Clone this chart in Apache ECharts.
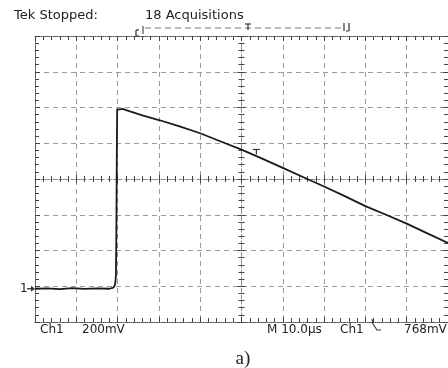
<!DOCTYPE html>
<html>
<head>
<meta charset="utf-8">
<script src="https://cdn.jsdelivr.net/npm/echarts@6/dist/echarts.min.js"></script>
<style>
html,body{margin:0;padding:0;background:#fff;}
#chart{width:448px;height:368px;}
</style>
</head>
<body>
<div id="chart"></div>
<script>
// Time axis in microseconds (10 µs/div), screen voltage in mV (200 mV/div)
const timeUs = [-50, -47, -44, -41, -38, -35, -32, -31.0, -30.6, -30.4, -30.3, -30.2, -30.1, -29.8, -29.4, -28.8, -27, -24, -20, -15, -10, -5, 0, 5, 10, 15, 20, 25, 30, 35, 40, 45, 50];
const ch1mV  = [-614, -612, -616, -611, -615, -612, -614, -608, -590, -540, -300, 100, 390, 400, 390, 392, 378, 356, 330, 294, 256, 210, 164, 114, 62, 10, -42, -96, -152, -200, -250, -304, -358];
const groundLevelmV = -614;
const triggerMark = [3.6, 154];
const topTexts = ['Tek Stopped:', '18 Acquisitions'];
const bottomTexts = ['Ch1', '200mV', 'M 10.0\u00b5s', 'Ch1', '768mV'];
const caption = 'a)';

const chart = echarts.init(document.getElementById('chart'), null, {renderer: 'canvas'});

const tickColor = '#444';
const gridColor = '#9a9a9a';
function border(dim, pos) {
  const isX = dim === 'x';
  return {
    type: 'value', position: pos,
    min: isX ? -50 : -800, max: isX ? 50 : 800, interval: isX ? 10 : 200,
    axisLabel: {show: false},
    axisLine: {show: true, onZero: false, lineStyle: {color: '#555', width: 1, type: 'dotted'}},
    axisTick: {show: true, inside: true, length: 5, lineStyle: {color: tickColor}},
    minorTick: {show: true, splitNumber: 5, length: 4, lineStyle: {color: tickColor}},
    splitLine: {show: pos === 'bottom' || pos === 'left', lineStyle: {color: gridColor, type: [5, 4], width: 1}}
  };
}
function center(dim, inside, showLine) {
  const isX = dim === 'x';
  return {
    type: 'value', position: isX ? 'bottom' : 'left',
    min: isX ? -50 : -800, max: isX ? 50 : 800, interval: isX ? 10 : 200,
    axisLabel: {show: false},
    axisLine: {show: showLine, onZero: true, onZeroAxisIndex: 0, lineStyle: {color: '#8a8a8a', width: 1, type: [3, 3]}},
    axisTick: {show: true, inside: inside, length: 4, lineStyle: {color: tickColor}},
    minorTick: {show: true, splitNumber: 5, length: 3, lineStyle: {color: tickColor}},
    splitLine: {show: false}
  };
}

chart.setOption({
  animation: false,
  backgroundColor: '#ffffff',
  grid: {left: 35, right: -3, top: 36, bottom: 46, containLabel: false},
  xAxis: [border('x', 'bottom'), border('x', 'top'), center('x', true, true), center('x', false, false)],
  yAxis: [border('y', 'left'), border('y', 'right'), center('y', true, true), center('y', false, false)],
  series: [{
    type: 'line',
    xAxisIndex: 0, yAxisIndex: 0,
    data: timeUs.map((t, i) => [t, ch1mV[i]]),
    showSymbol: false, symbol: 'none',
    lineStyle: {color: '#1a1a1a', width: 1.8},
    z: 10
  }]
});

const g = chart.convertToPixel({xAxisIndex: 0, yAxisIndex: 0}, [-50, groundLevelmV]);
const tr = chart.convertToPixel({xAxisIndex: 0, yAxisIndex: 0}, triggerMark);
const fontTop = '13px "DejaVu Sans"';
const fontBot = '12px "DejaVu Sans"';
const txtColor = '#222';
function txt(s, x, y, f, align) {
  return {type: 'text', z: 20, style: {text: s, x: x, y: y, font: f, fill: txtColor,
    textAlign: align || 'left', align: align || 'left', textVerticalAlign: 'middle', verticalAlign: 'middle'}};
}
function ln(x1, y1, x2, y2, w, c, dash) {
  return {type: 'line', z: 20, shape: {x1, y1, x2, y2}, style: {stroke: c || '#333', lineWidth: w || 1, lineDash: dash || null}};
}

chart.setOption({
  graphic: [
    txt(topTexts[0], 14, 16, fontTop),
    txt(topTexts[1], 145, 16, fontTop),
    // record-position bracket
    ln(136, 30, 136, 36, 1.2), ln(136, 30, 139, 30, 1.2), ln(136, 36, 139, 36, 1),
    ln(143, 26, 143, 34, 1),
    ln(145, 28, 342, 28, 1, '#777', [6, 4]),
    ln(245, 24, 251, 24, 1.2), ln(248, 24, 248, 30, 1.2),
    ln(344, 23, 344, 31, 1.2), ln(349, 23, 349, 31, 1.2), ln(346, 31, 349, 31, 1),
    // ground marker
    txt('1', g[0] - 15, g[1], fontBot),
    ln(g[0] - 8, g[1], g[0] - 1, g[1], 1.3),
    {type: 'polygon', z: 20, shape: {points: [[g[0], g[1]], [g[0] - 4, g[1] - 3], [g[0] - 4, g[1] + 3]]}, style: {fill: '#333'}},
    // trigger level marker
    ln(tr[0] - 3.5, tr[1] - 2, tr[0] + 3.5, tr[1] - 2, 1.2), ln(tr[0], tr[1] - 2, tr[0], tr[1] + 3, 1.2),
    // bottom readout
    txt(bottomTexts[0], 40, 330, fontBot),
    txt(bottomTexts[1], 82, 330, fontBot),
    txt(bottomTexts[2], 267, 330, fontBot),
    txt(bottomTexts[3], 340, 330, fontBot),
    {type: 'polyline', z: 20, shape: {points: [[372, 319], [373, 324], [377, 330], [381, 330]]}, style: {stroke: '#333', lineWidth: 1.1, fill: null}},
    txt(bottomTexts[4], 404, 330, fontBot),
    txt(caption, 243, 359, '19px "Liberation Serif"', 'center')
  ]
});
</script>
</body>
</html>
